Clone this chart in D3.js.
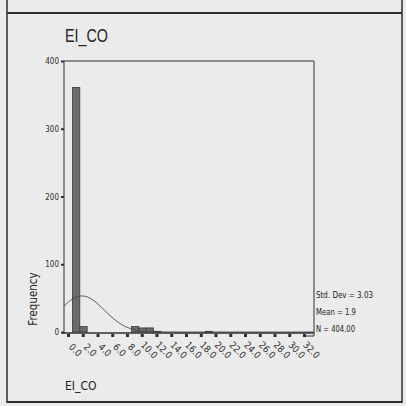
<!DOCTYPE html>
<html><head><meta charset="utf-8">
<script src="https://cdn.jsdelivr.net/npm/d3@7"></script>
<style>body{margin:0;background:#ebebeb}svg{display:block}</style>
</head><body>
<svg id="c" width="406" height="406"></svg>
<script>
// ---- data ----
const binStarts = [0.6, 1.6, 8.6, 9.6, 10.6, 11.6, 18.6];
const binWidth = 1;
const counts = [361, 8, 8, 6, 6, 1, 1];
const xTickValues = [0,2,4,6,8,10,12,14,16,18,20,22,24,26,28,30,32];
const xTickLabels = ["0.0","2.0","4.0","6.0","8.0","10.0","12.0","14.0","16.0","18.0","20.0","22.0","24.0","26.0","28.0","30.0","32.0"];
const yTickValues = [0,100,200,300,400];
const stdDev = 3.03, mean = 1.9, nTotal = 404;
const statLabels = ["Std. Dev = 3.03", "Mean = 1.9", "N = 404.00"];
const title = "EI_CO", xLabel = "EI_CO", yLabel = "Frequency";

const svg = d3.select("#c");
const ink = "#2e2e2e";
const font = "'DejaVu Sans Condensed','DejaVu Sans',sans-serif";

svg.append("rect").attr("width",406).attr("height",406).attr("fill","#ebebeb");
// outer frame
svg.append("line").attr("x1",7).attr("x2",7).attr("y1",0).attr("y2",403).attr("stroke",ink).attr("stroke-width",1.5);
svg.append("line").attr("x1",402).attr("x2",402).attr("y1",0).attr("y2",403).attr("stroke",ink).attr("stroke-width",1.5);
svg.append("line").attr("x1",7).attr("x2",402).attr("y1",13).attr("y2",13).attr("stroke",ink).attr("stroke-width",2);
svg.append("line").attr("x1",7).attr("x2",402).attr("y1",402).attr("y2",402).attr("stroke",ink).attr("stroke-width",2);

const x = d3.scaleLinear().domain([0,32]).range([68,304]);
const y = d3.scaleLinear().domain([0,400]).range([332,61]);
const pLeft = 64, pRight = 314, pTop = 61, pBase = 333;

// plot frame
svg.append("path").attr("d",`M${pLeft},${pTop}H${pRight}V${pBase+3}H${pRight-10}`).attr("fill","none").attr("stroke",ink).attr("stroke-width",1);

// bars
svg.append("g").selectAll("rect").data(counts).join("rect")
  .attr("x",(d,i)=>x(binStarts[i]))
  .attr("width",(d,i)=>x(binStarts[i]+binWidth)-x(binStarts[i]))
  .attr("y",d=>y(d))
  .attr("height",d=>y(0)-y(d))
  .attr("fill","#6b6b6b").attr("stroke","#3a3a3a").attr("stroke-width",0.8);

// normal curve from displayed stats
const pdf = v => nTotal*binWidth/(stdDev*Math.sqrt(2*Math.PI))*Math.exp(-((v-mean)**2)/(2*stdDev*stdDev));
const xs = d3.range(x.invert(pLeft), x.invert(pRight), 0.1);
svg.append("path").datum(xs)
  .attr("d", d3.line().x(v=>x(v)).y(v=>y(pdf(v))).curve(d3.curveBasis))
  .attr("fill","none").attr("stroke","#4a4a4a").attr("stroke-width",1);

// y axis
const ya = svg.append("g").attr("transform",`translate(${pLeft},0)`)
  .call(d3.axisLeft(y).tickValues(yTickValues).tickSize(3).tickPadding(2));
ya.select(".domain").attr("d",`M0,${pTop}V${pBase}`).attr("stroke",ink);
ya.selectAll(".tick line").attr("stroke",ink).attr("stroke-width",2);
ya.selectAll("text").attr("font-family",font).attr("font-size",8).attr("fill",ink);

// x axis
const xa = svg.append("g").attr("transform",`translate(0,${pBase})`)
  .call(d3.axisBottom(x).tickValues(xTickValues).tickFormat((d,i)=>xTickLabels[i]).tickSize(3));
xa.select(".domain").attr("d",`M${pLeft-2},0H${pRight}`).attr("stroke",ink).attr("stroke-width",1.5);
xa.selectAll(".tick line").attr("stroke",ink).attr("stroke-width",3).attr("y1",1).attr("y2",4);
xa.selectAll("text").attr("font-family",font).attr("font-size",9.5).attr("fill",ink)
  .attr("text-anchor","middle").attr("x",0).attr("y",0).attr("dy","0.35em")
  .attr("transform","translate(7,17) rotate(45)");

// titles
svg.append("text").attr("x",65).attr("y",42).text(title)
  .attr("font-family","'Liberation Sans',sans-serif").attr("font-size",18).attr("fill","#222")
  .attr("textLength",43).attr("lengthAdjust","spacingAndGlyphs");
svg.append("text").attr("x",65).attr("y",390).text(xLabel)
  .attr("font-family",font).attr("font-size",12).attr("fill","#222");
svg.append("text").attr("transform","translate(37,299) rotate(-90)").attr("text-anchor","middle").text(yLabel)
  .attr("font-family",font).attr("font-size",11.5).attr("fill","#222");

// stats
const statLens = [57,40,39];
svg.append("g").selectAll("text").data(statLabels).join("text")
  .attr("x",316).attr("y",(d,i)=>298+i*17).text(d=>d)
  .attr("font-family",font).attr("font-size",8.5).attr("fill","#222")
  .attr("textLength",(d,i)=>statLens[i]).attr("lengthAdjust","spacingAndGlyphs");
</script>
</body></html>
